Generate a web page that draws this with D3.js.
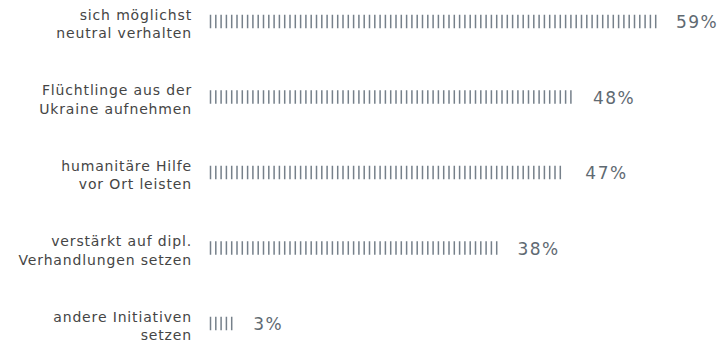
<!DOCTYPE html>
<html>
<head>
<meta charset="utf-8">
<script src="https://cdn.jsdelivr.net/npm/d3@7"></script>
<style>
  html, body { margin: 0; padding: 0; background: #ffffff; }
  svg { display: block; }
</style>
</head>
<body>
<svg id="chart" width="728" height="344"></svg>
<script>
// Antworten (Zeilen) und Anteile in Prozent
const labelLines = [
  ["sich möglichst", "neutral verhalten"],
  ["Flüchtlinge aus der", "Ukraine aufnehmen"],
  ["humanitäre Hilfe", "vor Ort leisten"],
  ["verstärkt auf dipl.", "Verhandlungen setzen"],
  ["andere Initiativen", "setzen"]
];
const categories = labelLines.map(d => d.join(" "));
const values = [59, 48, 47, 38, 3];
const valueLabels = ["59%", "48%", "47%", "38%", "3%"];

const width = 728, height = 344;
const barLeft = 210.5;
const tickStep = 5.3;   // Abstand der senkrechten Striche
const tickW = 1.5;
const tickH = 13.5;
const labelFont = "'DejaVu Sans', sans-serif";

const svg = d3.select("#chart");

const x = d3.scaleLinear().domain([0, 100]).range([0, 755]);
const y = d3.scalePoint().domain(categories).range([21.5, 323.5]);

const rows = svg.selectAll("g.row")
  .data(categories.map((c, i) => ({ cat: c, lines: labelLines[i], value: values[i], label: valueLabels[i] })))
  .join("g")
  .attr("class", "row")
  .attr("transform", d => `translate(0,${y(d.cat)})`);

// Beschriftung links, zweizeilig, rechtsbündig
rows.append("text")
  .attr("x", 192)
  .attr("text-anchor", "end")
  .attr("fill", "#454545")
  .style("font-family", labelFont)
  .style("font-size", "14px")
  .style("letter-spacing", "0.85px")
  .selectAll("tspan")
  .data(d => d.lines)
  .join("tspan")
  .attr("x", 192)
  .attr("y", (d, i) => -2 + i * 18.7)
  .text(d => d);

// Balken als Reihe senkrechter Striche
rows.each(function(d) {
  const w = x(d.value);
  const n = Math.floor(w / tickStep) + 1;
  d3.select(this).selectAll("rect.tick")
    .data(d3.range(n))
    .join("rect")
    .attr("class", "tick")
    .attr("x", i => barLeft + i * tickStep - tickW / 2)
    .attr("y", -tickH / 2)
    .attr("width", tickW)
    .attr("height", tickH)
    .attr("fill", "#76808a");
});

// Prozentwerte rechts vom Balken
rows.append("text")
  .attr("x", d => barLeft + x(d.value) + 20)
  .attr("y", 6.5)
  .attr("fill", "#5f6a72")
  .style("font-family", labelFont)
  .style("font-size", "17px")
  .style("letter-spacing", "1.5px")
  .text(d => d.label);
</script>
</body>
</html>
